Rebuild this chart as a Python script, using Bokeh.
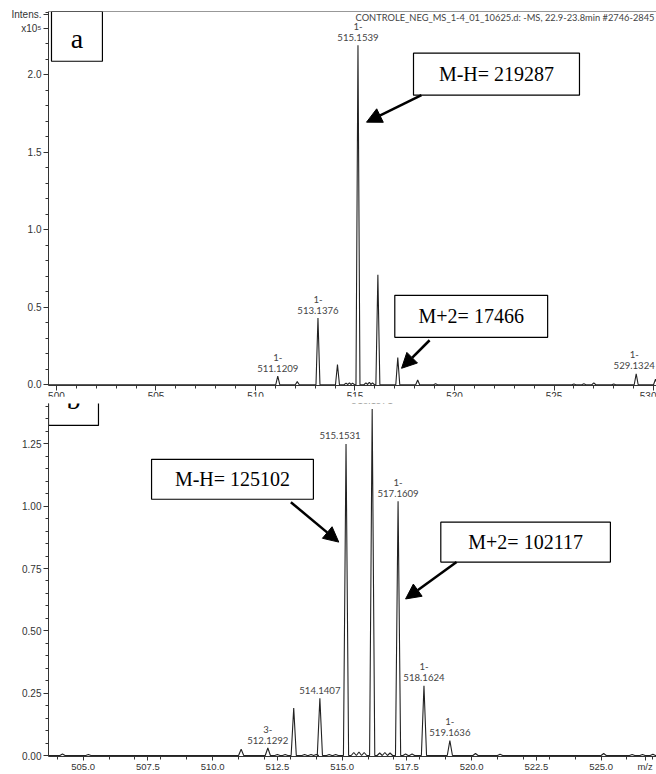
from bokeh.plotting import figure
from bokeh.layouts import column
from bokeh.models import (Range1d, FixedTicker, PrintfTickFormatter, Arrow, NormalHead,
                          Span, ColumnDataSource)
from bokeh.core.properties import value
from bokeh.embed import file_html
from bokeh.resources import INLINE

# ---------------- data (panel a) ----------------
a_mz = [511.12, 512.10, 513.14, 514.12, 514.55, 514.72, 514.88, 515.15, 515.55, 515.72,
        515.88, 516.15, 517.15, 518.15, 519.05, 526.0, 526.5, 527.0, 528.0, 529.13, 530.10]
a_int = [0.055, 0.02, 0.43, 0.13, 0.01, 0.012, 0.01, 2.19, 0.012, 0.015,
         0.012, 0.71, 0.175, 0.03, 0.006, 0.005, 0.006, 0.012, 0.005, 0.07, 0.035]
a_lab_mz = [511.12, 513.14, 515.15, 529.13]
a_lab_int = [0.055, 0.43, 2.19, 0.07]
a_lab_charge = ["1-", "1-", "1-", "1-"]
a_lab_mass = ["511.1209", "513.1376", "515.1539", "529.1324"]
a_xticks = [500, 505, 510, 515, 520, 525, 530]
a_yticks = [0.0, 0.5, 1.0, 1.5, 2.0]
a_ytitle = {2.3: "x10\u2075", 2.39: "Intens."}

# ---------------- data (panel b) ----------------
b_mz = [504.2, 505.2, 511.1, 512.13, 512.5, 512.8, 513.13, 513.55, 513.8, 514.0, 514.14,
        514.5, 514.75, 515.15, 515.45, 515.65, 515.85, 516.16, 516.45, 516.65, 516.85,
        517.16, 517.45, 517.7, 518.16, 519.16, 520.15, 521.1, 525.1, 526.2, 526.6, 527.0]
b_int = [0.006, 0.004, 0.025, 0.03, 0.004, 0.004, 0.19, 0.004, 0.004, 0.004, 0.23,
         0.004, 0.004, 1.25, 0.012, 0.014, 0.012, 1.39, 0.01, 0.012, 0.01,
         1.02, 0.006, 0.006, 0.28, 0.06, 0.008, 0.005, 0.008, 0.004, 0.004, 0.005]
b_lab_mz = [512.13, 514.14, 515.15, 516.16, 517.16, 518.16, 519.16]
b_lab_int = [0.03, 0.23, 1.25, 1.39, 1.02, 0.28, 0.06]
b_lab_charge = ["3-", "", "", "", "1-", "1-", "1-"]
b_lab_mass = ["512.1292", "514.1407", "515.1531", "516.1571", "517.1609", "518.1624", "519.1636"]
b_xticks = [505.0, 507.5, 510.0, 512.5, 515.0, 517.5, 520.0, 522.5, 525.0]
b_yticks = [0.00, 0.25, 0.50, 0.75, 1.00, 1.25]
b_xtitle = {526.7: "m/z"}

HW = 0.1  # half width of a profile peak (m/z)
AX = "#333333"
TXT = "#444444"


def profile(mz, inten, lo, hi):
    xs, ys = [lo], [0.0]
    for m, h in sorted(zip(mz, inten)):
        xs += [m - HW, m, m + HW]
        ys += [0.0, h, 0.0]
    xs.append(hi)
    ys.append(0.0)
    return xs, ys


def style_axes(p, fs):
    for ax in (p.xaxis[0], p.yaxis[0]):
        ax.axis_line_color = AX
        ax.axis_line_width = 1
        ax.major_tick_line_color = AX
        ax.minor_tick_line_color = AX
        ax.major_tick_in = 0
        ax.minor_tick_in = 0
        ax.major_tick_out = 5
        ax.minor_tick_out = 3
        ax.major_label_text_font = "Liberation Sans"
        ax.major_label_text_font_size = fs
        ax.major_label_text_color = AX
    p.xaxis[0].major_label_standoff = 1
    p.yaxis[0].major_label_standoff = 2
    p.xgrid.visible = False
    p.ygrid.visible = False


def ann_box(p, l, r, b, t, txt, size, tx=None, ty=None):
    p.quad(left=[l], right=[r], bottom=[b], top=[t], fill_color="white",
           line_color="black", line_width=1.2)
    p.text(x=[tx if tx is not None else (l + r) / 2], y=[ty if ty is not None else (b + t) / 2],
           text=[txt], text_font=value("Liberation Serif"), text_font_size=value(size),
           text_align="center", text_baseline="middle", text_color="black")


def peak_labels(p, mz, inten, charge, mass, xoff):
    src = ColumnDataSource(dict(x=mz, y=inten, c=charge, m=mass, xo=xoff))
    p.text(x="x", y="y", text="m", source=src, x_offset="xo", y_offset=-8, text_align="center",
           text_baseline="middle", text_font=value("Lato"), text_font_size=value("9.6px"),
           text_color=TXT)
    p.text(x="x", y="y", text="c", source=src, x_offset="xo", y_offset=-19, text_align="center",
           text_baseline="middle", text_font=value("Lato"), text_font_size=value("9.6px"),
           text_color=TXT)


# ---------------- panel a ----------------
p1 = figure(width=656, height=410, output_backend="svg", toolbar_location=None,
            x_range=Range1d(499.6, 530.15), y_range=Range1d(-0.005, 2.408),
            min_border_left=48, min_border_right=0, min_border_top=11, min_border_bottom=25)
p1.outline_line_color = None
p1.background_fill_color = "white"
p1.border_fill_color = "white"
style_axes(p1, "10px")
p1.xaxis[0].ticker = FixedTicker(ticks=a_xticks, minor_ticks=list(range(500, 531)))
p1.yaxis[0].ticker = FixedTicker(ticks=a_yticks + sorted(a_ytitle),
                                 minor_ticks=[i / 10 for i in range(0, 25)])
p1.yaxis[0].formatter = PrintfTickFormatter(format="%.1f")
p1.yaxis[0].major_label_overrides = dict(a_ytitle)
p1.add_layout(Span(location=2.408, dimension="width", line_color=AX, line_width=1))

xa, ya = profile(a_mz, a_int, 499.6, 530.15)
p1.line(xa, ya, line_color="#222222", line_width=1.1)
peak_labels(p1, a_lab_mz, a_lab_int, a_lab_charge, a_lab_mass, [0, 0, 0, -2])

p1.text(x=[530.05], y=[2.371], text=["CONTROLE_NEG_MS_1-4_01_10625.d: -MS, 22.9-23.8min #2746-2845"],
        text_align="right", text_baseline="middle", text_font=value("Lato"),
        text_font_size=value("9.3px"), text_color=TXT)

ann_box(p1, 499.75, 502.31, 2.087, 2.408, "a", "28px", ty=2.235)
ann_box(p1, 517.94, 526.28, 1.868, 2.139, "M-H= 219287", "20px")
ann_box(p1, 517.0, 524.68, 0.306, 0.577, "M+2= 17466", "20px")
p1.add_layout(Arrow(end=NormalHead(size=15, fill_color="black", line_color="black"),
                    x_start=518.34, y_start=1.868, x_end=515.58, y_end=1.694,
                    line_width=2.5, line_color="black"))
p1.add_layout(Arrow(end=NormalHead(size=15, fill_color="black", line_color="black"),
                    x_start=518.75, y_start=0.287, x_end=517.34, y_end=0.106,
                    line_width=2.5, line_color="black"))

# ---------------- panel b ----------------
p2 = figure(width=656, height=378, output_backend="svg", toolbar_location=None,
            x_range=Range1d(503.66, 527.14), y_range=Range1d(-0.004, 1.412),
            min_border_left=36, min_border_right=0, min_border_top=7, min_border_bottom=10)
p2.outline_line_color = None
p2.background_fill_color = "white"
p2.border_fill_color = "white"
style_axes(p2, "10px")
p2.xaxis[0].ticker = FixedTicker(ticks=b_xticks + sorted(b_xtitle),
                                 minor_ticks=list(range(504, 528)))
p2.xaxis[0].formatter = PrintfTickFormatter(format="%.1f")
p2.xaxis[0].major_label_overrides = dict(b_xtitle)
p2.xaxis[0].major_label_text_font_size = "9.5px"
p2.xaxis[0].major_tick_out = 4
p2.xaxis[0].minor_tick_out = 3
p2.xaxis[0].major_label_standoff = 0
p2.yaxis[0].ticker = FixedTicker(ticks=b_yticks, minor_ticks=[i / 20 for i in range(0, 29)])
p2.yaxis[0].formatter = PrintfTickFormatter(format="%.2f")

xb, yb = profile(b_mz, b_int, 503.66, 527.14)
p2.line(xb, yb, line_color="#222222", line_width=1.1)
peak_labels(p2, b_lab_mz, b_lab_int, b_lab_charge, b_lab_mass, [0, 0, -6, 0, 0, 0, 0])

ann_box(p2, 503.66, 505.59, 1.324, 1.524, "b", "28px", ty=1.43)
ann_box(p2, 507.64, 513.89, 1.028, 1.188, "M-H= 125102", "20px")
ann_box(p2, 518.81, 525.36, 0.776, 0.936, "M+2= 102117", "20px")
p2.add_layout(Arrow(end=NormalHead(size=15, fill_color="black", line_color="black"),
                    x_start=513.02, y_start=1.016, x_end=514.87, y_end=0.856,
                    line_width=2.5, line_color="black"))
p2.add_layout(Arrow(end=NormalHead(size=15, fill_color="black", line_color="black"),
                    x_start=519.42, y_start=0.776, x_end=517.45, y_end=0.628,
                    line_width=2.5, line_color="black"))

p2.margin = (-14, 0, 0, 0)
layout = column(p1, p2, spacing=0)

open("out.html", "w").write(file_html(layout, INLINE))
